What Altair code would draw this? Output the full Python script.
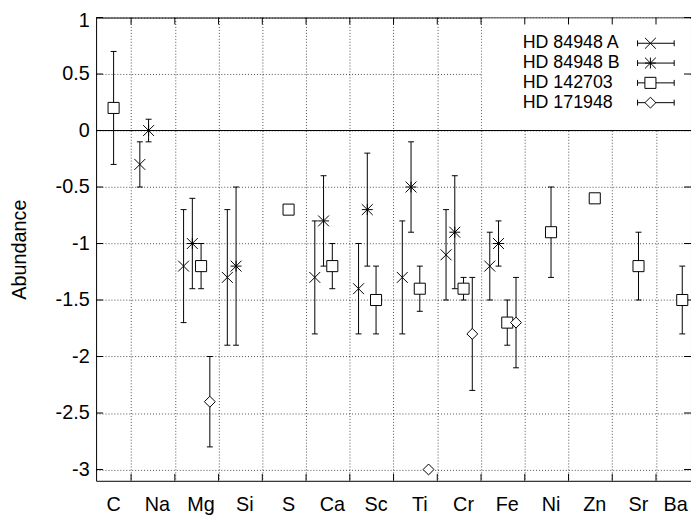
import altair as alt
import pandas as pd

# ---- data ----
elements = ["C", "Na", "Mg", "Si", "S", "Ca", "Sc", "Ti", "Cr", "Fe", "Ni", "Zn", "Sr", "Ba"]
series_names = ["HD 84948 A", "HD 84948 B", "HD 142703", "HD 171948"]

a_elems = ["Na", "Mg", "Si", "Ca", "Sc", "Ti", "Cr", "Fe"]
a_vals = [-0.3, -1.2, -1.3, -1.3, -1.4, -1.3, -1.1, -1.2]
a_errs = [0.2, 0.5, 0.6, 0.5, 0.4, 0.5, 0.4, 0.3]

b_elems = ["Na", "Mg", "Si", "Ca", "Sc", "Ti", "Cr", "Fe"]
b_vals = [0.0, -1.0, -1.2, -0.8, -0.7, -0.5, -0.9, -1.0]
b_errs = [0.1, 0.4, 0.7, 0.4, 0.5, 0.4, 0.5, 0.2]

c_elems = ["C", "Mg", "S", "Ca", "Sc", "Ti", "Cr", "Fe", "Ni", "Zn", "Sr", "Ba"]
c_vals = [0.2, -1.2, -0.7, -1.2, -1.5, -1.4, -1.4, -1.7, -0.9, -0.6, -1.2, -1.5]
c_errs = [0.5, 0.2, 0.0, 0.2, 0.3, 0.2, 0.1, 0.2, 0.4, 0.0, 0.3, 0.3]

d_elems = ["Mg", "Ti", "Cr", "Fe"]
d_vals = [-2.4, -3.0, -1.8, -1.7]
d_errs = [0.4, 0.0, 0.5, 0.4]

y_ticks = [1, 0.5, 0, -0.5, -1, -1.5, -2, -2.5, -3]
x_grid = list(range(1, 14))

# ---- layout / style ----
W, H = 601, 468
FONT = "Liberation Sans"
FS = 20
LFS = 18
offsets = [0.2, 0.4, 0.6, 0.8]
shapes = [
    "M-1,-1L1,1M-1,1L1,-1",
    "M-1,-1L1,1M-1,1L1,-1M0,-1L0,1M-1,0L1,0",
    "M-1,-1L1,-1L1,1L-1,1Z",
    "M-1,0L0,-1L1,0L0,1Z",
]
sizes = [121, 121, 125, 121]
fills = [None, None, "white", "white"]

all_series = [
    (a_elems, a_vals, a_errs),
    (b_elems, b_vals, b_errs),
    (c_elems, c_vals, c_errs),
    (d_elems, d_vals, d_errs),
]

rows = []
for k, (els, vals, errs) in enumerate(all_series):
    for e, v, err in zip(els, vals, errs):
        rows.append({
            "series": series_names[k],
            "x": elements.index(e) + offsets[k],
            "v": v,
            "lo": v - err,
            "hi": v + err,
            "err": err,
        })
df = pd.DataFrame(rows)
df_err = df[df["err"] > 0]

xscale = alt.Scale(domain=[0.2, 13.8], nice=False, zero=False)
yscale = alt.Scale(domain=[-3.1, 1], nice=False, zero=False)

X = alt.X("x:Q", scale=xscale,
          axis=alt.Axis(values=x_grid, grid=True, labels=False, ticks=False,
                        tickSize=0, domain=False, title=None))

layers = []

# legend background covering grid
layers.append(
    alt.Chart(pd.DataFrame({"a": [0]})).mark_rect(fill="white", stroke=None).encode(
        x=alt.value(390), x2=alt.value(600), y=alt.value(1), y2=alt.value(113))
)

# zero line (also carries the y axis)
zero = alt.Chart(pd.DataFrame({"x": [0.2], "v": [0.0]})).mark_rule(
    color="black", strokeWidth=1).encode(
    y=alt.Y("v:Q", scale=yscale,
            axis=alt.Axis(values=y_ticks, grid=True, ticks=False, tickSize=0,
                          domain=False, labelExpr="'' + datum.value",
                          labelPadding=7, labelFlush=1, labelFlushOffset=7,
                          title="Abundance",
                          titleX=-77, titleY=H / 2, titleAngle=270,
                          titleAlign="center", titleBaseline="middle")))
layers.append(zero)

# inward ticks
ytick_df = pd.DataFrame({"v": y_ticks})
xtick_df = pd.DataFrame({"x": x_grid})
layers.append(alt.Chart(ytick_df).mark_rule(color="black").encode(
    y=alt.Y("v:Q", scale=yscale), x=alt.value(0), x2=alt.value(7)))
layers.append(alt.Chart(ytick_df).mark_rule(color="black").encode(
    y=alt.Y("v:Q", scale=yscale), x=alt.value(W - 7), x2=alt.value(W)))
layers.append(alt.Chart(xtick_df).mark_rule(color="black").encode(
    x=X, y=alt.value(H - 7), y2=alt.value(H)))
layers.append(alt.Chart(xtick_df).mark_rule(color="black").encode(
    x=X, y=alt.value(0), y2=alt.value(7)))

# error bars
layers.append(alt.Chart(df_err).mark_rule(color="black", strokeWidth=1).encode(
    x=X, y=alt.Y("lo:Q", scale=yscale), y2="hi:Q"))
for fld in ["lo", "hi"]:
    layers.append(alt.Chart(df_err).mark_tick(
        orient="horizontal", size=6, thickness=1, color="black", opacity=1).encode(
        x=X, y=alt.Y(f"{fld}:Q", scale=yscale)))

# points
for k, name in enumerate(series_names):
    sub = df[df["series"] == name]
    kw = dict(shape=shapes[k], size=sizes[k], stroke="black", strokeWidth=1, opacity=1)
    if fills[k]:
        kw.update(filled=True, fill=fills[k], fillOpacity=1)
    else:
        kw.update(filled=False)
    layers.append(alt.Chart(sub).mark_point(**kw).encode(
        x=X, y=alt.Y("v:Q", scale=yscale)))

# element labels (kept inside the picture at the right edge)
lab_df = pd.DataFrame({"el": elements,
                       "x": [min(i + 0.6, 13.45) for i in range(len(elements))]})
layers.append(alt.Chart(lab_df).mark_text(
    font=FONT, fontSize=FS, color="black", align="center", baseline="alphabetic").encode(
    x=X, y=alt.value(H + 31), text="el:N"))

# legend
for k, name in enumerate(series_names):
    yk = 26 + 20 * k
    one = pd.DataFrame({"name": [name]})
    layers.append(alt.Chart(one).mark_text(
        font=FONT, fontSize=LFS, color="black", align="left", baseline="middle").encode(
        x=alt.value(431), y=alt.value(yk), text="name:N"))
    layers.append(alt.Chart(one).mark_rule(color="black").encode(
        x=alt.value(547), x2=alt.value(584), y=alt.value(yk)))
    for cx in [547, 584]:
        layers.append(alt.Chart(one).mark_rule(color="black").encode(
            x=alt.value(cx), y=alt.value(yk - 3), y2=alt.value(yk + 3)))
    kw = dict(shape=shapes[k], size=sizes[k], stroke="black", strokeWidth=1, opacity=1)
    if fills[k]:
        kw.update(filled=True, fill=fills[k], fillOpacity=1)
    else:
        kw.update(filled=False)
    layers.append(alt.Chart(one).mark_point(**kw).encode(
        x=alt.value(560), y=alt.value(yk)))

chart = alt.layer(*layers).properties(
    width=W, height=H,
    autosize=alt.AutoSizeParams(type="none"),
    padding={"left": 89, "top": 7, "right": 0, "bottom": 39},
).configure_view(
    stroke="black", strokeWidth=1
).configure_axis(
    gridDash=[1, 2], gridColor="black", gridOpacity=0.7, gridWidth=1,
    labelFont=FONT, labelFontSize=FS, labelColor="black",
    titleFont=FONT, titleFontSize=FS, titleColor="black", titleFontWeight="normal",
)

chart.save("out.html", embed_options={"renderer": "svg", "actions": False})
